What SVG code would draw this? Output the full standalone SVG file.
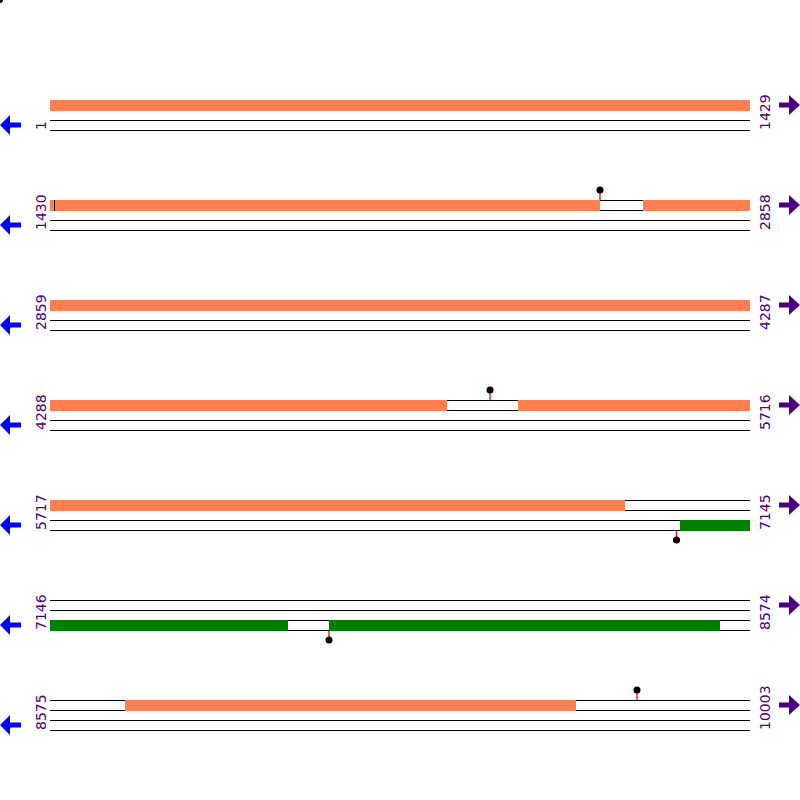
<svg xmlns="http://www.w3.org/2000/svg" width="800" height="800" viewBox="0 0 800 800">
<style>
.ln{stroke:#000;stroke-width:1;fill:none}
.or{fill:#FF7F50}
.gr{fill:#008000}
.wh{fill:#fff}
.lab{font-family:"DejaVu Sans",Verdana,sans-serif;font-size:14px;fill:#4B0082}
.mk{stroke:#FF0000;stroke-width:1.3}
.dot{fill:#000}
.la{fill:#0000FF}
.ra{fill:#4B0082}
</style>
<defs>
<g id="tracks">
<line class="ln" x1="50" y1="0.5" x2="750" y2="0.5"/>
<line class="ln" x1="50" y1="10.5" x2="750" y2="10.5"/>
<line class="ln" x1="50" y1="20.5" x2="750" y2="20.5"/>
<line class="ln" x1="50" y1="30.5" x2="750" y2="30.5"/>
</g>
<polygon id="larrow" class="la" points="0,25 10,15 10,22.5 21,22.5 21,27.5 10,27.5 10,35"/>
<polygon id="rarrow" class="ra" points="800,5 789,-5 789,2.5 779,2.5 779,7.5 789,7.5 789,15"/>
</defs>
<circle class="dot" cx="0" cy="0" r="3"/>
<g id="row1" transform="translate(0,100)">
<use href="#tracks"/>
<rect class="or" x="50" y="0" width="700" height="11"/>
<use href="#larrow"/><use href="#rarrow"/>
<text class="lab" transform="translate(46,30) rotate(-90)">1</text>
<text class="lab" transform="translate(770,30) rotate(-90)">1429</text>
</g>
<g id="row2" transform="translate(0,200)">
<use href="#tracks"/>
<rect class="or" x="50" y="0" width="550" height="11"/>
<rect class="or" x="643" y="0" width="107" height="11"/>
<line class="ln" x1="54.5" y1="0" x2="54.5" y2="11"/>
<line class="mk" x1="600" y1="-10" x2="600" y2="0"/>
<circle class="dot" cx="600" cy="-10" r="3.5"/>
<use href="#larrow"/><use href="#rarrow"/>
<text class="lab" transform="translate(46,30) rotate(-90)">1430</text>
<text class="lab" transform="translate(770,30) rotate(-90)">2858</text>
</g>
<g id="row3" transform="translate(0,300)">
<use href="#tracks"/>
<rect class="or" x="50" y="0" width="700" height="11"/>
<use href="#larrow"/><use href="#rarrow"/>
<text class="lab" transform="translate(46,30) rotate(-90)">2859</text>
<text class="lab" transform="translate(770,30) rotate(-90)">4287</text>
</g>
<g id="row4" transform="translate(0,400)">
<use href="#tracks"/>
<rect class="or" x="50" y="0" width="397" height="11"/>
<rect class="or" x="518" y="0" width="232" height="11"/>
<line class="mk" x1="490" y1="-10" x2="490" y2="0"/>
<circle class="dot" cx="490" cy="-10" r="3.5"/>
<use href="#larrow"/><use href="#rarrow"/>
<text class="lab" transform="translate(46,30) rotate(-90)">4288</text>
<text class="lab" transform="translate(770,30) rotate(-90)">5716</text>
</g>
<g id="row5" transform="translate(0,500)">
<use href="#tracks"/>
<rect class="or" x="50" y="0" width="575" height="11"/>
<rect class="gr" x="680" y="20" width="70" height="11"/>
<line class="mk" x1="676.5" y1="31" x2="676.5" y2="40"/>
<circle class="dot" cx="676.5" cy="40" r="3.5"/>
<use href="#larrow"/><use href="#rarrow"/>
<text class="lab" transform="translate(46,30) rotate(-90)">5717</text>
<text class="lab" transform="translate(770,30) rotate(-90)">7145</text>
</g>
<g id="row6" transform="translate(0,600)">
<use href="#tracks"/>
<rect class="gr" x="50" y="20" width="238" height="11"/>
<rect class="gr" x="329" y="20" width="391" height="11"/>
<line class="mk" x1="329" y1="31" x2="329" y2="40"/>
<circle class="dot" cx="329" cy="40" r="3.5"/>
<use href="#larrow"/><use href="#rarrow"/>
<text class="lab" transform="translate(46,30) rotate(-90)">7146</text>
<text class="lab" transform="translate(770,30) rotate(-90)">8574</text>
</g>
<g id="row7" transform="translate(0,700)">
<use href="#tracks"/>
<rect class="or" x="125" y="0" width="451" height="11"/>
<line class="mk" x1="637" y1="-10" x2="637" y2="0"/>
<circle class="dot" cx="637" cy="-10" r="3.5"/>
<use href="#larrow"/><use href="#rarrow"/>
<text class="lab" transform="translate(46,30) rotate(-90)">8575</text>
<text class="lab" transform="translate(770,30) rotate(-90)">10003</text>
</g>
</svg>
